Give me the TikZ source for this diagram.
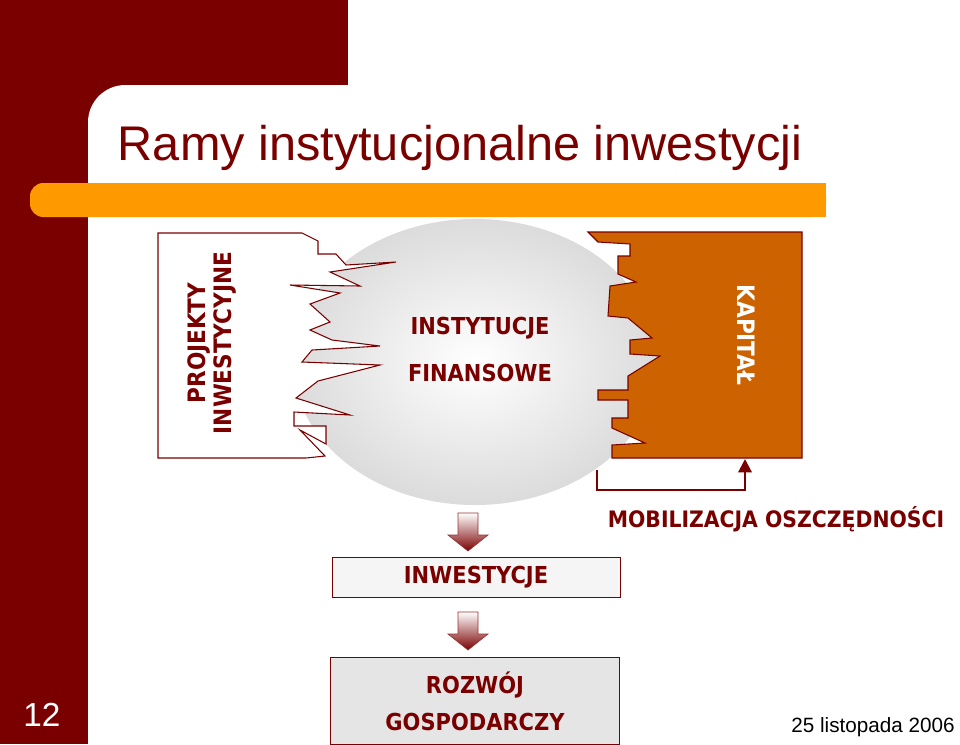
\documentclass[tikz,border=0pt]{standalone}
\usepackage{fontspec}
\setmainfont{Liberation Sans}
\newfontfamily\cond{DejaVu Sans Condensed}
\usetikzlibrary{shadows,arrows.meta}
\definecolor{bordo}{HTML}{7A0000}
\definecolor{pomar}{HTML}{FF9900}
\definecolor{kapital}{HTML}{CC6200}
\tikzset{
  lbl/.style={text=bordo, font=\cond\bfseries\fontsize{17.5}{20}\selectfont},
  pudlo/.style={draw=bordo, line width=0.8pt},
  strzalka/.style={draw=bordo!80, line width=0.5pt, top color=white, bottom color=bordo}
}
\begin{document}
\begin{tikzpicture}[x=0.75pt,y=-0.75pt]
  \useasboundingbox (0,0) rectangle (960,744);
  % ~~~~ Tlo ~~~~ %
  \fill[bordo] (0,0) rectangle (348,744);
  \fill[white, rounded corners=28pt] (88,85) rectangle (1000,800);
  \fill[white] (348,0) rectangle (960,85);
  \fill[pomar, rounded corners=10pt] (30,183) rectangle (826,217);
  \fill[pomar] (60,183) rectangle (826,217);
  \node[text=white, font=\fontsize{25}{27}\selectfont] (nr) at (42,715) {12};
  \node[text=bordo, font=\fontsize{36.5}{40}\selectfont] (tytul) at (460,148) {Ramy instytucjonalne inwestycji};
  \node[font=\fontsize{15.5}{17}\selectfont] (data) at (873,727) {25 listopada 2006};

  % ~~~~ Instytucje ~~~~ %
  \shade[inner color=white, outer color=black!14] (475,362) ellipse (182 and 143);
  \node[lbl] (inst) at (480,328) {INSTYTUCJE};
  \node[lbl] (fin) at (480,373) {FINANSOWE};

  % ~~~~ Projekty ~~~~ %
  \draw[pudlo, fill=white] (158,233) -- (302,233) -- (318,241) -- (318,254) -- (336,254)
    -- (346,265) -- (396,262) -- (330,272) -- (360,286) -- (290,285) -- (340,293)
    -- (310,304) -- (330,322) -- (310,330) -- (332,340) -- (380,346) -- (312,350)
    -- (302,362) -- (380,365) -- (318,381) -- (296,398) -- (350,415) -- (294,412)
    -- (294,426) -- (326,426) -- (326,444) -- (300,430) -- (325,456) -- (306,458)
    -- (158,458) -- cycle;
  \node[lbl, rotate=90, align=center, font=\cond\bfseries\fontsize{18}{20}\selectfont] (proj) at (212,343) {PROJEKTY\\INWESTYCYJNE};

  % ~~~~ Kapital ~~~~ %
  \draw[pudlo, fill=kapital] (588,232) -- (802,232) -- (802,458) -- (612,458) -- (612,445)
    -- (645,443) -- (612,428) -- (612,418) -- (628,418) -- (628,400) -- (598,400)
    -- (598,390) -- (628,390) -- (628,376) -- (660,356) -- (630,354) -- (630,340)
    -- (652,338) -- (628,318) -- (608,316) -- (610,286) -- (636,282) -- (618,274)
    -- (618,256) -- (630,256) -- (630,244) -- (598,242) -- cycle;
  \node[text=white, rotate=-90, font=\cond\bfseries\fontsize{18}{20}\selectfont] (kap) at (746,335) {KAPITAŁ};
  \coordinate (petla) at (597,470);
  \draw[bordo, line width=1.6pt, -{Triangle[width=10pt,length=10pt]}] (petla) -- (597,490) -- (745,490) -- (745,459);
  \node[lbl, font=\cond\bfseries\fontsize{17}{20}\selectfont] (mob) at (776,519) {MOBILIZACJA OSZCZĘDNOŚCI};

  % ~~~~ Wyniki ~~~~ %
  \node[pudlo, line width=0.5pt, fill=black!4, minimum width=288pt*0.75, minimum height=40pt*0.75, lbl] (inw) at (476,577) {INWESTYCJE};
  \node[pudlo, line width=0.5pt, fill=black!10, minimum width=289pt*0.75, minimum height=87pt*0.75, lbl, align=center, font=\cond\bfseries\fontsize{17.5}{28}\selectfont] (roz) at (475,701) {ROZWÓJ\\GOSPODARCZY};
  \foreach \y in {513,612} {
    \draw[strzalka] (458,\y) -- (478,\y) -- (478,\y+22) -- (488,\y+22) -- (468,\y+38)
      -- (448,\y+22) -- (458,\y+22) -- cycle;
  }
\end{tikzpicture}
\end{document}
